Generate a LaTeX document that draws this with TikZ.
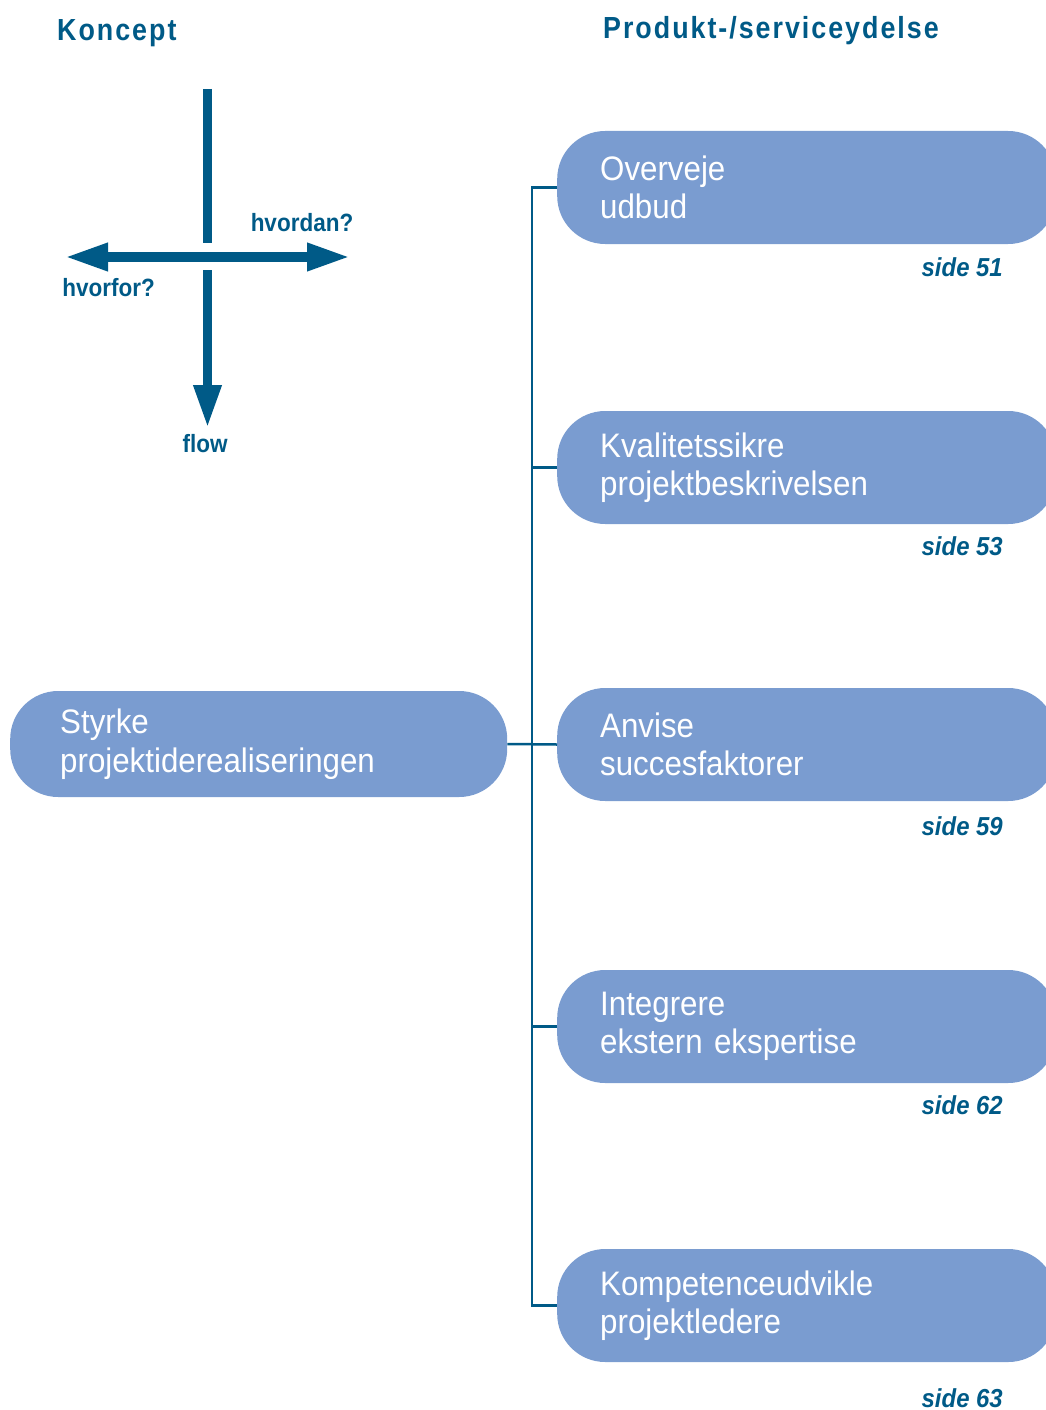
\documentclass[tikz,border=0pt]{standalone}
\usepackage{fontspec}
\setmainfont{Liberation Sans}
\newfontfamily\narrowfont[FakeStretch=0.92]{Liberation Sans}
\newfontfamily\labelfont[FakeStretch=0.9]{Liberation Sans}
\newfontfamily\headfont[LetterSpace=6.5,FakeStretch=0.88]{Liberation Sans}
\usetikzlibrary{arrows.meta}
\definecolor{deepblue}{HTML}{005A87}
\definecolor{boxblue}{HTML}{7A9CD0}
\begin{document}
\begin{tikzpicture}[x=1pt,y=-1pt,
  pill/.style={fill=boxblue, rounded corners=48pt, text=white, align=left,
    inner xsep=43pt, inner ysep=0pt, minimum width=499pt, minimum height=113pt,
    text width=413pt, font=\narrowfont\fontsize{34}{38.5}\selectfont, anchor=west},
  rootpill/.style={pill, inner xsep=50pt, minimum width=497pt,
    minimum height=106pt, text width=397pt},
  heading/.style={text=deepblue, anchor=west, inner sep=0pt,
    font=\headfont\bfseries\fontsize{30.5}{34}\selectfont},
  axislabel/.style={text=deepblue, inner sep=0pt,
    font=\labelfont\bfseries\fontsize{25}{29}\selectfont},
  pageref/.style={text=deepblue, anchor=east, inner sep=0pt,
    font=\narrowfont\bfseries\itshape\fontsize{26}{30}\selectfont},
  fat/.style={draw=deepblue, line width=9.5pt},
  conn/.style={draw=deepblue, line width=2.5pt},
  bigtip/.tip={Triangle[length=43pt,width=26pt]}
]
\useasboundingbox (0,0) rectangle (1046,1410);
\clip (0,0) rectangle (1046,1410);

% headings
\node[heading] (hkoncept) at (57,33) {Koncept};
\node[heading] (hprodukt) at (603,31) {Produkt-/serviceydelse};

% concept cross
\coordinate (vtop) at (207.5,89);
\coordinate (vgapA) at (207.5,243);
\coordinate (vgapB) at (207.5,270);
\coordinate (vtip) at (207.5,428);
\coordinate (hleft) at (65,257);
\coordinate (hright) at (350,257);
\draw[fat] (vtop) -- (vgapA);
\draw[fat, -{bigtip[fill=deepblue]}] (vgapB) -- (vtip);
\draw[fat, {bigtip[fill=deepblue]}-{bigtip[fill=deepblue]}] (hleft) -- (hright);
\node[axislabel] (lhvordan) at (302,223) {hvordan?};
\node[axislabel] (lhvorfor) at (108.5,288) {hvorfor?};
\node[axislabel] (lflow) at (205,444) {flow};

% root and branches
\node[rootpill] (root) at (10,744) {Styrke\\projektiderealiseringen};
\node[pill] (b1) at (557,187.5) {Overveje\\udbud};
\node[pill] (b2) at (557,467.5) {Kvalitetssikre\\projektbeskrivelsen};
\node[pill] (b3) at (557,744.5) {Anvise\\succesfaktorer};
\node[pill] (b4) at (557,1026.5) {Integrere\\ekstern ekspertise};
\node[pill] (b5) at (557,1305.5) {Kompetenceudvikle\\projektledere};

\draw[conn] (b1.west) -- ++(-25,0) |- (b5.west);
\draw[conn] (b2.west) -- ++(-25,0);
\draw[conn] (b4.west) -- ++(-25,0);
\draw[conn] (root.east) -- (b3.west);

% page references
\node[pageref] (p1) at (1003,267) {side 51};
\node[pageref] (p2) at (1003,546) {side 53};
\node[pageref] (p3) at (1003,826) {side 59};
\node[pageref] (p4) at (1003,1105) {side 62};
\node[pageref] (p5) at (1003,1398) {side 63};
\end{tikzpicture}
\end{document}
